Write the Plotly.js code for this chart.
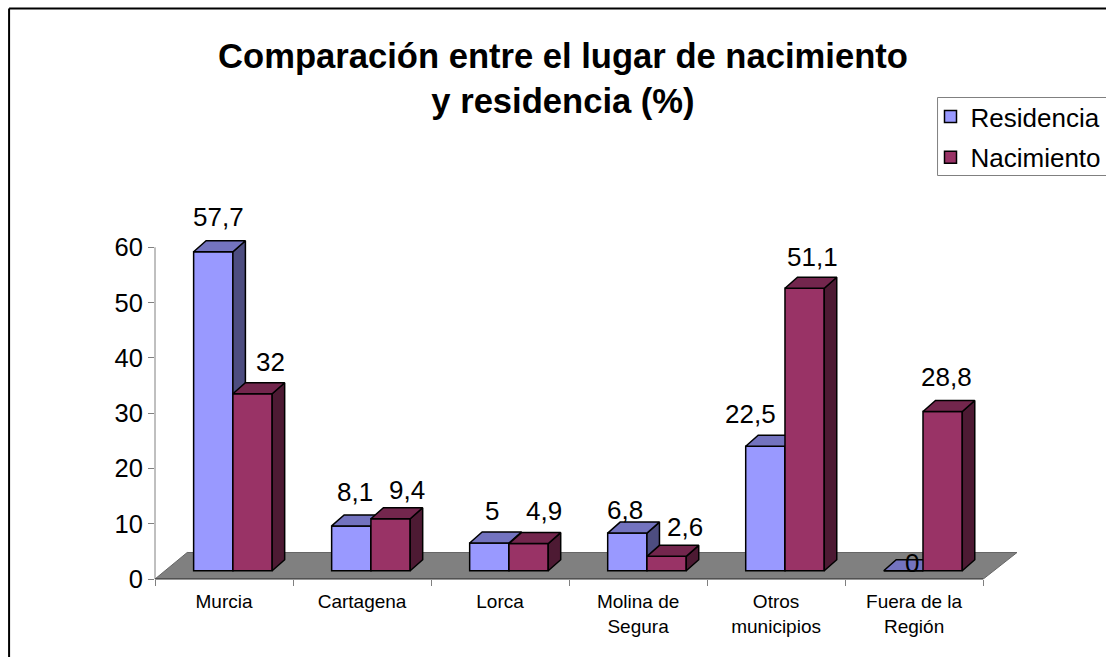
<!DOCTYPE html>
<html>
<head>
<meta charset="utf-8">
<script src="https://cdn.plot.ly/plotly-3.0.1.min.js"></script>
<style>html,body{margin:0;padding:0;background:#fff;overflow:hidden}#c{width:1106px;height:657px}</style>
</head>
<body>
<div id="c"></div>
<script>
const categories = ["Murcia", "Cartagena", "Lorca", "Molina de<br>Segura", "Otros<br>municipios", "Fuera de la<br>Región"];
const residencia = [57.7, 8.1, 5, 6.8, 22.5, 0];
const nacimiento = [32, 9.4, 4.9, 2.6, 51.1, 28.8];
const yTicks = [0, 10, 20, 30, 40, 50, 60];

// label nudges in pixels (the original places them unevenly)
const resLabelDx = [5, 4, 3, -2, -15, 9];
const resLabelDy = [35, 34, 32, 23, 32, 8];
const nacLabelDx = [18, 16, 15, 18, 8, 4];
const nacLabelDy = [32, 29, 33, 29, 31, 34];

const W = 1106, H = 657;
const L = 154.5, T60 = 247.3, B = 579, R = 1017, T = 190;
const catPx = 138.1, unitPx = (B - T60) / 60;
const xMax = -0.5 + (R - L) / catPx;
const yMax = (B - T) / unitPx;
const barW = 39.3 / catPx;
const split = 8.9 / catPx;
const depthX = 12.5 / catPx, depthY = 11 / unitPx;
const baseY = 8.3 / unitPx;
const positions = categories.map((_, i) => i);
const boundaries = [...positions.map(p => p - 0.5), positions.length - 0.5];

function polys(values, offset) {
  const side = {x: [], y: []}, top = {x: [], y: []};
  values.forEach((v, i) => {
    const x0 = i + offset, x1 = x0 + barW, y0 = baseY, y1 = baseY + v;
    side.x.push(x1, x1 + depthX, x1 + depthX, x1, x1, null);
    side.y.push(y0, y0 + depthY, y1 + depthY, y1, y0, null);
    top.x.push(x0, x1, x1 + depthX, x0 + depthX, x0, null);
    top.y.push(y1, y1, y1 + depthY, y1 + depthY, y1, null);
  });
  return {side, top};
}
function polyTrace(p, color, xa, ya) {
  return {type: 'scatter', mode: 'lines', x: p.x, y: p.y, xaxis: xa, yaxis: ya, fill: 'toself', fillcolor: color,
    line: {color: '#000', width: 1.5}, showlegend: false, hoverinfo: 'skip', cliponaxis: false};
}
function barTrace(name, values, offset, color, xa, ya) {
  return {type: 'bar', name, legendgroup: name, x: positions, y: values, base: values.map(() => baseY), offset, width: barW,
    marker: {color, line: {color: '#000', width: 1.5}}, xaxis: xa, yaxis: ya, cliponaxis: false, hoverinfo: 'skip'};
}
const fmt = v => String(v).replace('.', ',');
const labelFont = {family: 'Liberation Sans, Arial, sans-serif', size: 26, color: '#000'};
function labels(values, offset, dx, dy, xa, ya) {
  return values.map((v, i) => ({
    text: fmt(v), x: i + offset + barW / 2, y: baseY + v, xref: xa, yref: ya,
    xshift: dx[i], yshift: dy[i], showarrow: false, xanchor: 'center', yanchor: 'middle', font: labelFont
  }));
}
const pRes = polys(residencia, split - barW);
const pNac = polys(nacimiento, split);

const data = [
  barTrace('Residencia', residencia, split - barW, '#9999FF', 'x', 'y'),
  polyTrace(pRes.side, '#4D4D80', 'x', 'y'),
  polyTrace(pRes.top, '#7373BF', 'x', 'y'),
  barTrace('Nacimiento', nacimiento, split, '#993366', 'x2', 'y2'),
  polyTrace(pNac.side, '#4D1A33', 'x2', 'y2'),
  polyTrace(pNac.top, '#73264D', 'x2', 'y2')
];

const fx = px => -0.5 + (px - L) / catPx;
const fy = px => (B - px) / unitPx;
const floorPath = 'M' + fx(L) + ',' + fy(B) + ' L' + fx(983.3) + ',' + fy(B) + ' L' + fx(R) + ',' + fy(552.5) + ' L' + fx(186.7) + ',' + fy(552.5) + ' Z';
const px2paperX = px => (px - L) / (R - L);
const px2paperY = py => (B - py) / (B - T);
const pageLine = (x0, y0, x1, y1, color, width) => ({type: 'line', xref: 'paper', yref: 'paper',
  x0: px2paperX(x0), x1: px2paperX(x1), y0: px2paperY(y0), y1: px2paperY(y1), line: {color, width}});

const layout = {
  width: W, height: H,
  margin: {l: L, r: W - R, t: T, b: H - B, pad: 0, autoexpand: false},
  paper_bgcolor: '#fff', plot_bgcolor: 'rgba(0,0,0,0)',
  font: {family: 'Liberation Sans, Arial, sans-serif', color: '#000'},
  title: {
    text: '<b>Comparación entre el lugar de nacimiento<br>y residencia (%)</b>',
    x: 563 / W, xanchor: 'center', xref: 'container', y: 1 - 68 / H, yanchor: 'top',
    font: {family: 'Liberation Sans, Arial, sans-serif', size: 34.6, color: '#000'}
  },
  xaxis: {range: [-0.5, xMax], tickvals: boundaries, ticktext: boundaries.map(() => ''),
    ticks: 'outside', ticklen: 6, tickcolor: '#808080', tickwidth: 1, showline: false,
    showgrid: false, zeroline: false, fixedrange: true},
  yaxis: {range: [0, yMax], tickvals: yTicks, ticks: 'outside', ticklen: 6, tickcolor: '#808080', tickwidth: 1, showline: false,
    showgrid: false, zeroline: false, fixedrange: true, tickfont: {size: 25.5, color: '#000'}},
  xaxis2: {overlaying: 'x', range: [-0.5, xMax], tickvals: positions, ticktext: categories, ticks: '', showline: false, showgrid: false,
    zeroline: false, fixedrange: true, tickangle: 0, tickfont: {size: 19, color: '#000'}, ticklabelstandoff: 9},
  yaxis2: {range: [0, yMax], overlaying: 'y', visible: false, fixedrange: true},
  showlegend: true,
  legend: {x: 930.5 / W, xref: 'container', y: 1 - 93 / H, yref: 'container', xanchor: 'left', yanchor: 'top', bgcolor: 'rgba(0,0,0,0)',
    borderwidth: 0, font: {size: 26, color: '#000'}, traceorder: 'grouped', tracegroupgap: 4, itemclick: false, itemdoubleclick: false},
  annotations: [
    ...labels(residencia, split - barW, resLabelDx, resLabelDy, 'x', 'y'),
    ...labels(nacimiento, split, nacLabelDx, nacLabelDy, 'x2', 'y2')
  ],
  shapes: [
    {type: 'path', layer: 'below', xref: 'x', yref: 'y', path: floorPath, fillcolor: '#808080', line: {color: '#666', width: 1}},
    pageLine(L, T60, L, B, '#808080', 1),
    pageLine(L, B, 983.3, B, '#303030', 1),
    pageLine(8.5, 8.5, 1110, 8.5, '#000', 2),
    pageLine(8.5, 8.5, 8.5, 660, '#000', 2),
    {type: 'rect', xref: 'paper', yref: 'paper', x0: px2paperX(937.5), x1: px2paperX(1112), y0: px2paperY(97.5), y1: px2paperY(175.5), fillcolor: '#fff', line: {color: '#808080', width: 1}}
  ]
};
Plotly.newPlot('c', data, layout, {displayModeBar: false});
</script>
</body>
</html>
